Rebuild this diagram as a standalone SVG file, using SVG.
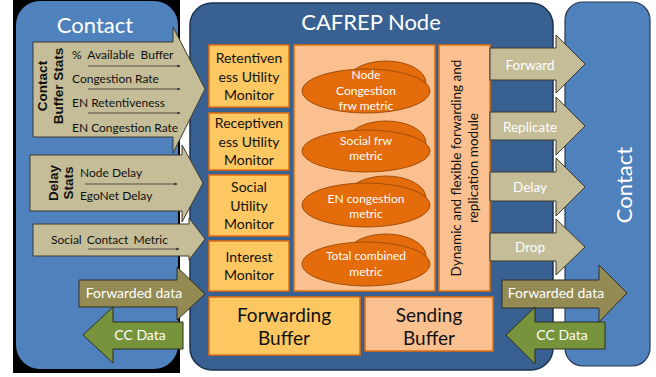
<svg xmlns="http://www.w3.org/2000/svg" width="656" height="377" viewBox="0 0 656 377">
<defs>
<style>
.t{font-family:Lato,"Liberation Sans",sans-serif;}
.w{fill:#ffffff;}
.k{fill:#111111;}
.tan{fill:#c4bd97;stroke:#3a3a30;stroke-width:1;}
.olive{fill:#948a54;stroke:#2e2e22;stroke-width:1;}
.green{fill:#77933c;stroke:#2e2e22;stroke-width:1;}
.mon{fill:#fdc762;stroke:#e46c0a;stroke-width:1.5;}
.peach{fill:#fac090;stroke:#e46c0a;stroke-width:1.5;}
.ell{fill:#e46c0a;stroke:#a24d08;stroke-width:1;}
.sm{stroke:#333333;stroke-width:0.8;fill:none;marker-end:url(#ah);}
.bold{font-family:"Liberation Sans",Arial,sans-serif;font-weight:bold;}
</style>
<marker id="ah" viewBox="0 0 6 6" refX="5" refY="3" markerWidth="4" markerHeight="4" orient="auto">
<path d="M0,0 L6,3 L0,6 z" fill="#333333"/>
</marker>
</defs>
<rect x="0" y="0" width="656" height="377" fill="#ffffff"/>
<rect x="13" y="0" width="167" height="373" fill="#000000"/>

<g id="contact-left">
<rect x="16" y="1" width="162" height="368" rx="24" fill="#4f81bd"/>
<text class="t w" x="95" y="33" font-size="22" text-anchor="middle">Contact</text>
</g>

<g id="cafrep-node">
<rect x="190" y="3" width="363" height="367" rx="22" fill="#386192" stroke="#1d3250" stroke-width="1.5"/>
<text class="t w" x="371" y="30" font-size="22" text-anchor="middle">CAFREP Node</text>
</g>

<g id="contact-right">
<rect x="565" y="2" width="85" height="364" rx="18" fill="#4f81bd" stroke="#2a3a50" stroke-width="1.2"/>
<text class="t w" transform="translate(632,185) rotate(-90)" font-size="22" text-anchor="middle">Contact</text>
</g>

<g id="monitors">
<g id="retentiveness-monitor">
<rect class="mon" x="209" y="45" width="80" height="62"/>
<text class="t k" font-size="14" text-anchor="middle"><tspan x="249" y="63">Retentiven</tspan><tspan x="249" y="82">ess Utility</tspan><tspan x="249" y="100">Monitor</tspan></text>
</g>
<g id="receptiveness-monitor">
<rect class="mon" x="209" y="113" width="80" height="57"/>
<text class="t k" font-size="14" text-anchor="middle"><tspan x="249" y="128">Receptiven</tspan><tspan x="249" y="147">ess Utility</tspan><tspan x="249" y="165">Monitor</tspan></text>
</g>
<g id="social-monitor">
<rect class="mon" x="209" y="175" width="80" height="61"/>
<text class="t k" font-size="14" text-anchor="middle"><tspan x="249" y="192">Social</tspan><tspan x="249" y="211">Utility</tspan><tspan x="249" y="229">Monitor</tspan></text>
</g>
<g id="interest-monitor">
<rect class="mon" x="209" y="241" width="80" height="50"/>
<text class="t k" font-size="14" text-anchor="middle"><tspan x="249" y="262">Interest</tspan><tspan x="249" y="280">Monitor</tspan></text>
</g>
</g>

<g id="metrics">
<rect class="peach" x="294" y="45" width="141" height="246"/>
<g id="m1">
<ellipse class="ell" cx="386" cy="83" rx="40" ry="22"/>
<ellipse class="ell" cx="366" cy="91" rx="64" ry="22"/>
<text class="t w" font-size="12" text-anchor="middle"><tspan x="366" y="79">Node</tspan><tspan x="366" y="95">Congestion</tspan><tspan x="366" y="110">frw metric</tspan></text>
</g>
<g id="m2">
<ellipse class="ell" cx="386" cy="143" rx="40" ry="22"/>
<ellipse class="ell" cx="366" cy="151" rx="64" ry="21"/>
<text class="t w" font-size="12" text-anchor="middle"><tspan x="366" y="145">Social frw</tspan><tspan x="366" y="160">metric</tspan></text>
</g>
<g id="m3">
<ellipse class="ell" cx="386" cy="198" rx="40" ry="22"/>
<ellipse class="ell" cx="366" cy="205" rx="64" ry="22"/>
<text class="t w" font-size="12" text-anchor="middle"><tspan x="366" y="203">EN congestion</tspan><tspan x="366" y="218">metric</tspan></text>
</g>
<g id="m4">
<ellipse class="ell" cx="386" cy="256" rx="40" ry="22"/>
<ellipse class="ell" cx="366" cy="264" rx="64" ry="22"/>
<text class="t w" font-size="12" text-anchor="middle"><tspan x="366" y="260">Total combined</tspan><tspan x="366" y="276">metric</tspan></text>
</g>
</g>

<g id="module">
<rect class="peach" x="439" y="45" width="51" height="246"/>
<text class="t k" transform="translate(464,168) rotate(-90)" font-size="13.5" text-anchor="middle"><tspan x="0" y="-3">Dynamic and flexible forwarding and</tspan><tspan x="0" y="14">replication module</tspan></text>
</g>

<g id="forwarding-buffer">
<rect class="mon" x="209" y="297" width="151" height="58"/>
<text class="t k" font-size="19" text-anchor="middle"><tspan x="284" y="322">Forwarding</tspan><tspan x="284" y="345">Buffer</tspan></text>
</g>

<g id="sending-buffer">
<rect class="peach" x="365" y="297" width="128" height="54"/>
<text class="t k" font-size="19" text-anchor="middle"><tspan x="429" y="322">Sending</tspan><tspan x="429" y="345">Buffer</tspan></text>
</g>

<g id="connectors">
<g id="buffer-stats">
<path class="tan" d="M33,42 H173 V27 L205,89 L173,153 V137 H33 Z"/>
<text class="bold k" transform="translate(50,86) rotate(-90)" font-size="13.5" text-anchor="middle"><tspan x="0" y="-3">Contact</tspan><tspan x="0" y="13">Buffer Stats</tspan></text>
<text class="t k" font-size="12"><tspan x="72" y="59" word-spacing="3">% Available Buffer</tspan><tspan x="72" y="83">Congestion Rate</tspan><tspan x="72" y="107">EN  Retentiveness</tspan><tspan x="72" y="132">EN Congestion Rate</tspan></text>
<line class="sm" x1="88" y1="66" x2="180" y2="66"/>
<line class="sm" x1="88" y1="89" x2="180" y2="89"/>
<line class="sm" x1="88" y1="113" x2="180" y2="113"/>
</g>
<g id="delay-stats">
<path class="tan" d="M30,155 H182 V145 L203,183 L182,222 V211 H30 Z"/>
<text class="bold k" transform="translate(61,183) rotate(-90)" font-size="13.5" text-anchor="middle"><tspan x="0" y="-3">Delay</tspan><tspan x="0" y="12">Stats</tspan></text>
<text class="t k" font-size="12"><tspan x="80" y="177">Node Delay</tspan><tspan x="80" y="200">EgoNet Delay</tspan></text>
<line class="sm" x1="85" y1="184" x2="177" y2="184"/>
</g>
<g id="social-contact">
<path class="tan" d="M33,224 H189 V218 L205,239 L189,260 V256 H33 Z"/>
<text class="t k" font-size="12" x="51" y="244" word-spacing="2">Social  Contact Metric</text>
<line class="sm" x1="88" y1="249" x2="179" y2="249"/>
</g>
<g id="fwd-data-left">
<path class="olive" d="M79,280 H177 V267 L205,294 L177,320 V307 H79 Z"/>
<text class="t w" font-size="14" x="134" y="298" text-anchor="middle">Forwarded data</text>
</g>
<g id="cc-data-left">
<path class="green" d="M183,322 H113 V307 L83,335 L113,363 V349 H183 Z"/>
<text class="t w" font-size="14" x="140" y="340" text-anchor="middle">CC Data</text>
</g>
<g id="forward">
<path class="tan" d="M490,48 H556 V35 L585,64 L556,93 V80 H490 Z"/>
<text class="t w" font-size="13.5" x="530" y="70" text-anchor="middle">Forward</text>
</g>
<g id="replicate">
<path class="tan" d="M490,112 H556 V97 L585,126 L556,155 V140 H490 Z"/>
<text class="t w" font-size="13.5" x="530" y="132" text-anchor="middle">Replicate</text>
</g>
<g id="delay">
<path class="tan" d="M490,172 H556 V158 L585,187 L556,216 V201 H490 Z"/>
<text class="t w" font-size="13.5" x="530" y="192" text-anchor="middle">Delay</text>
</g>
<g id="drop">
<path class="tan" d="M490,233 H556 V219 L585,247 L556,275 V261 H490 Z"/>
<text class="t w" font-size="13.5" x="530" y="252" text-anchor="middle">Drop</text>
</g>
<g id="fwd-data-right">
<path class="olive" d="M502,280 H599 V265 L627,293 L599,322 V308 H502 Z"/>
<text class="t w" font-size="14" x="556" y="298" text-anchor="middle">Forwarded data</text>
</g>
<g id="cc-data-right">
<path class="green" d="M605,322 H535 V307 L506,335 L535,364 V349 H605 Z"/>
<text class="t w" font-size="14" x="562" y="340" text-anchor="middle">CC Data</text>
</g>
</g>
</svg>
